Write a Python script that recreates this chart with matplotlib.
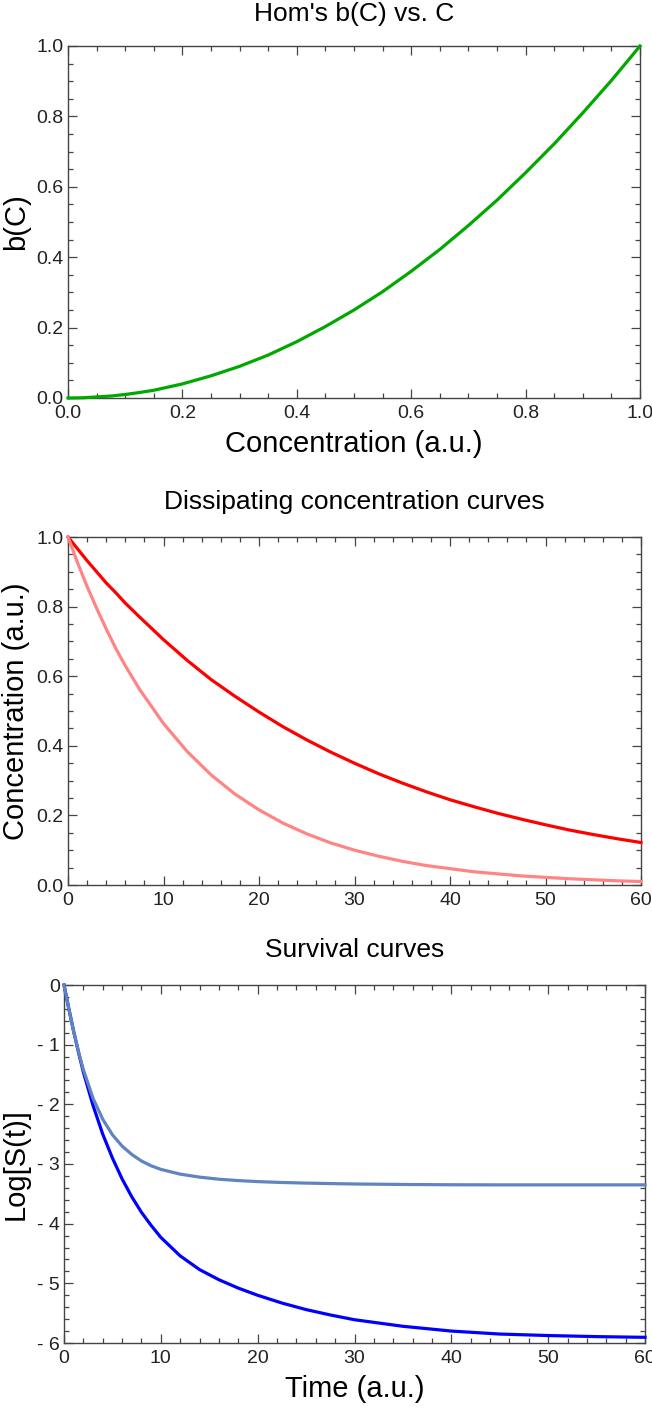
import matplotlib
matplotlib.use("Agg")
import matplotlib.pyplot as plt
from matplotlib.ticker import MultipleLocator

plt.rcParams['font.family'] = ['Liberation Sans', 'DejaVu Sans']

# panel 1: b(C) vs C
conc = [0.0, 0.025, 0.05, 0.075, 0.1, 0.125, 0.15, 0.2, 0.25, 0.3, 0.35, 0.4, 0.45, 0.5,
        0.55, 0.6, 0.65, 0.7, 0.75, 0.8, 0.85, 0.9, 0.95, 1.0]
bC = [0.0, 0.0006, 0.003, 0.0056, 0.01, 0.0156, 0.022, 0.04, 0.063, 0.09, 0.122, 0.16,
      0.203, 0.25, 0.302, 0.36, 0.422, 0.49, 0.562, 0.64, 0.722, 0.81, 0.902, 1.0]

# panel 2: concentration vs time
t_c = [0, 1, 2, 3, 4, 5, 6, 7.5, 10, 12.5, 15, 17.5, 20, 22.5, 25, 27.5, 30, 32.5, 35,
       37.5, 40, 42.5, 45, 47.5, 50, 52.5, 55, 57.5, 60]
c_slow = [1.0, 0.966, 0.932, 0.9, 0.868, 0.84, 0.81, 0.77, 0.705, 0.645, 0.59, 0.542,
          0.497, 0.455, 0.417, 0.382, 0.35, 0.32, 0.293, 0.268, 0.245, 0.225, 0.206,
          0.189, 0.173, 0.158, 0.145, 0.133, 0.122]
c_fast = [1.0, 0.926, 0.858, 0.795, 0.736, 0.68, 0.63, 0.562, 0.464, 0.383, 0.316,
          0.261, 0.216, 0.178, 0.147, 0.121, 0.10, 0.083, 0.068, 0.056, 0.047, 0.038,
          0.032, 0.026, 0.022, 0.018, 0.015, 0.012, 0.01]

# panel 3: log survival vs time
t_s = [0, 0.5, 1, 1.5, 2, 3, 4, 5, 6, 7, 8, 9, 10, 12, 14, 16, 18, 20, 22.5,
       25, 27.5, 30, 35, 40, 45, 50, 55, 60]
logS_slow = [0, -0.40, -0.78, -1.13, -1.46, -2.02, -2.50, -2.90, -3.25, -3.55, -3.81,
             -4.03, -4.23, -4.54, -4.77, -4.94, -5.08, -5.20, -5.33, -5.44, -5.53,
             -5.61, -5.72, -5.80, -5.85, -5.875, -5.893, -5.905]
logS_fast = [0, -0.40, -0.78, -1.12, -1.42, -1.90, -2.25, -2.51, -2.70, -2.84, -2.95,
             -3.03, -3.09, -3.17, -3.22, -3.255, -3.278, -3.295, -3.31, -3.32, -3.328,
             -3.335, -3.343, -3.348, -3.35, -3.35, -3.35, -3.35]

W, H = 652, 1408
fig = plt.figure(figsize=(W / 100, H / 100), dpi=100)

def box(l, t, r, b):
    return [l / W, 1 - b / H, (r - l) / W, (b - t) / H]

ax1 = fig.add_axes(box(68, 46, 640, 398))
ax2 = fig.add_axes(box(68, 537, 641, 885))
ax3 = fig.add_axes(box(64, 985, 645, 1343))

lw = 2.3
ax1.plot(conc, bC, color='#00a800', lw=lw, clip_on=False, zorder=5)
ax2.plot(t_c, c_slow, color='#ff0000', lw=lw, clip_on=False, zorder=5)
ax2.plot(t_c, c_fast, color='#ff8585', lw=lw, clip_on=False, zorder=5)
ax3.plot(t_s, logS_slow, color='#0000ff', lw=lw, clip_on=False, zorder=5)
ax3.plot(t_s, logS_fast, color='#6084c0', lw=lw, clip_on=False, zorder=5)

ax1.set_xlim(0, 1); ax1.set_ylim(0, 1)
ax2.set_xlim(0, 60); ax2.set_ylim(0, 1)
ax3.set_xlim(0, 60); ax3.set_ylim(-6, 0)

ax1.xaxis.set_major_locator(MultipleLocator(0.2)); ax1.xaxis.set_minor_locator(MultipleLocator(0.05))
ax1.yaxis.set_major_locator(MultipleLocator(0.2)); ax1.yaxis.set_minor_locator(MultipleLocator(0.05))
ax2.xaxis.set_major_locator(MultipleLocator(10)); ax2.xaxis.set_minor_locator(MultipleLocator(2))
ax2.yaxis.set_major_locator(MultipleLocator(0.2)); ax2.yaxis.set_minor_locator(MultipleLocator(0.05))
ax3.xaxis.set_major_locator(MultipleLocator(10)); ax3.xaxis.set_minor_locator(MultipleLocator(2))
ax3.yaxis.set_major_locator(MultipleLocator(1)); ax3.yaxis.set_minor_locator(MultipleLocator(0.2))

ax1.set_xticklabels(['%.1f' % v for v in ax1.get_xticks()])
ax1.set_yticklabels(['%.1f' % v for v in ax1.get_yticks()])
ax2.set_yticklabels(['%.1f' % v for v in ax2.get_yticks()])
ax3.set_yticklabels(['0' if v == 0 else '- %d' % abs(v) for v in ax3.get_yticks()])

for ax in (ax1, ax2, ax3):
    for s in ax.spines.values():
        s.set_color('#444444')
        s.set_linewidth(1.0)
    ax.tick_params(which='both', direction='in', top=True, right=True,
                   color='#444444', width=0.9, labelsize=14, labelcolor='#222222')
    ax.tick_params(which='major', length=6.5)
    ax.tick_params(which='minor', length=3.5)
    ax.tick_params(axis='x', pad=5)
    ax.tick_params(axis='y', pad=3)

ax1.set_title("Hom's b(C) vs. C", fontsize=19, pad=18)
ax2.set_title("Dissipating concentration curves", fontsize=19, pad=20)
ax3.set_title("Survival curves", fontsize=19, pad=20)

ax1.set_xlabel("Concentration (a.u.)", fontsize=21, labelpad=6)
ax3.set_xlabel("Time (a.u.)", fontsize=21, labelpad=6)
ax1.set_ylabel("b(C)", fontsize=21, labelpad=5)
ax2.set_ylabel("Concentration (a.u.)", fontsize=21, labelpad=5)
ax3.set_ylabel("Log[S(t)]", fontsize=21, labelpad=5)

fig.savefig('out.png', dpi=100)
